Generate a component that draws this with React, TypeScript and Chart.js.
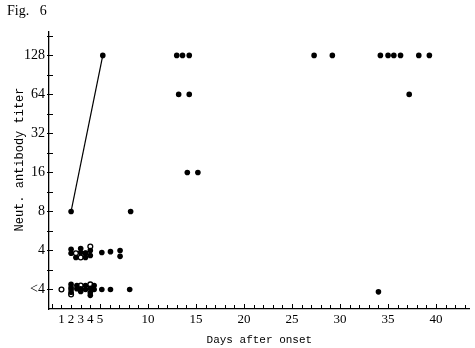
import React, { useEffect, useRef } from "react";
import { Chart, registerables } from "chart.js";

Chart.register(...registerables);

// Titer levels (index 0 = "<4")
const titerLabels = ["<4", "4", "8", "16", "32", "64", "128"];
// x tick labels to show
const xLabelDays = [1, 2, 3, 4, 5, 10, 15, 20, 25, 30, 35, 40];

// Filled points: days after onset, titer level (small vertical offsets = stacked patients)
const filledDays = [
  5.3, 13.0, 13.6, 14.3, 27.3, 29.2, 34.2, 35.0, 35.6, 36.3, 38.2, 39.3,
  13.2, 14.3, 37.2,
  14.1, 15.2,
  2.0, 8.2,
  2.0, 2.0, 2.5, 3.0, 3.0, 3.5, 3.5, 4.0, 4.0, 5.2, 6.1, 7.1, 7.1,
  2.0, 2.0, 2.0, 2.0, 2.6, 2.6, 3.0, 3.0, 3.5, 3.5, 4.0, 4.0, 4.0, 4.4, 4.4, 5.2, 6.1, 8.1,
  34.0,
];
const filledLevels = [
  6, 6, 6, 6, 6, 6, 6, 6, 6, 6, 6, 6,
  5, 5, 5,
  3, 3,
  2, 2,
  1.03, 0.93, 0.82, 1.05, 0.95, 0.93, 0.82, 1.0, 0.87, 0.95, 0.97, 1.0, 0.85,
  0.13, 0.05, 0.0, -0.07, 0.1, 0.02, 0.02, -0.05, 0.1, 0.0, 0.03, -0.08, -0.15, 0.1, 0.0, 0.0, 0.0, 0.0,
  -0.06,
];
// Open circles
const openDays = [1.0, 2.0, 3.0, 4.0, 2.5, 3.0, 4.0, 3.5];
const openLevels = [0.0, -0.13, 0.1, 0.13, 0.93, 0.82, 1.1, 0.93];
// Connecting line of one patient
const lineDays = [2.0, 5.3];
const lineLevels = [2, 6];

const yTitle = "Neut. antibody titer";
const SERIF = "'Liberation Serif', 'DejaVu Serif', serif";
const MONO = "'Liberation Mono', 'DejaVu Sans Mono', monospace";

const insideTicks = {
  id: "insideTicks",
  afterDraw(chart: any) {
    const { ctx, chartArea, scales } = chart;
    const x = scales.x;
    const y = scales.y;
    ctx.save();
    ctx.strokeStyle = "#000";
    ctx.lineWidth = 1;
    ctx.beginPath();
    for (let d = 0; d <= Math.floor(x.max); d++) {
      const px = Math.round(x.getPixelForValue(d)) + 0.5;
      const len = d % 5 === 0 ? 5 : 4;
      ctx.moveTo(px, chartArea.bottom);
      ctx.lineTo(px, chartArea.bottom - len);
    }
    for (let v = 0; v <= y.max; v += 0.5) {
      const py = Math.round(y.getPixelForValue(v)) + 0.5;
      ctx.moveTo(chartArea.left - 2, py);
      ctx.lineTo(chartArea.left + 4, py);
    }
    ctx.stroke();
    // y-axis title
    ctx.translate(20, (chartArea.top + chartArea.bottom) / 2 - 11);
    ctx.rotate(-Math.PI / 2);
    ctx.fillStyle = "#000";
    ctx.font = `12px ${MONO}`;
    ctx.textAlign = "center";
    ctx.textBaseline = "middle";
    ctx.fillText(yTitle, 0, 0);
    ctx.restore();
  },
};

export default function App() {
  const ref = useRef<HTMLCanvasElement>(null);
  useEffect(() => {
    const canvas = ref.current!;
    const chart = new Chart(canvas, {
      type: "scatter",
      data: {
        datasets: [
          {
            label: "line",
            data: lineDays.map((d, i) => ({ x: d, y: lineLevels[i] })),
            showLine: true,
            borderColor: "#000",
            borderWidth: 1.2,
            pointRadius: 0,
          },
          {
            label: "filled",
            data: filledDays.map((d, i) => ({ x: d, y: filledLevels[i] })),
            pointRadius: 2.8,
            backgroundColor: "#000",
            borderColor: "#000",
            borderWidth: 0,
          },
          {
            label: "open",
            data: openDays.map((d, i) => ({ x: d, y: openLevels[i] })),
            pointRadius: 2.4,
            backgroundColor: "#fff",
            borderColor: "#000",
            borderWidth: 1.3,
          },
        ],
      },
      options: {
        animation: false,
        responsive: false,
        maintainAspectRatio: false,
        layout: { padding: { top: 32, right: 4, bottom: 0, left: 0 } },
        plugins: {
          legend: { display: false },
          tooltip: { enabled: false },
        },
        scales: {
          x: {
            type: "linear",
            min: -0.3,
            max: 43.5,
            afterFit: (s: any) => {
              s.height = 39;
            },
            grid: { display: false, drawTicks: false },
            border: { display: true, color: "#000", width: 1.3 },
            ticks: {
              stepSize: 1,
              autoSkip: false,
              maxRotation: 0,
              padding: 3,
              color: "#000",
              font: { family: SERIF, size: 13 },
              callback: (v: any) => (xLabelDays.includes(Number(v)) ? String(v) : ""),
            },
            title: {
              display: true,
              text: "Days after onset",
              color: "#000",
              font: { family: MONO, size: 11 },
              padding: { top: 0, bottom: 1 },
            },
          },
          y: {
            type: "linear",
            min: -0.5,
            max: 6.6,
            afterFit: (s: any) => {
              s.width = 49;
            },
            grid: { display: false, drawTicks: false },
            border: { display: true, color: "#000", width: 1.3 },
            afterBuildTicks: (s: any) => {
              s.ticks = titerLabels.map((_, i) => ({ value: i }));
            },
            ticks: {
              autoSkip: false,
              padding: 4,
              color: "#000",
              font: { family: SERIF, size: 14 },
              callback: (v: any) => titerLabels[Number(v)] ?? "",
            },
          },
        },
      },
      plugins: [insideTicks],
    });
    return () => chart.destroy();
  }, []);

  return (
    <div style={{ position: "fixed", left: 0, top: 0, width: 475, height: 348, background: "#fff" }}>
      <div
        style={{
          position: "absolute",
          left: 7,
          top: 3,
          fontFamily: SERIF,
          fontSize: 14,
          whiteSpace: "pre",
          color: "#000",
        }}
      >
        {"Fig.   6"}
      </div>
      <canvas ref={ref} width={475} height={348} style={{ display: "block", width: 475, height: 348 }} />
    </div>
  );
}
